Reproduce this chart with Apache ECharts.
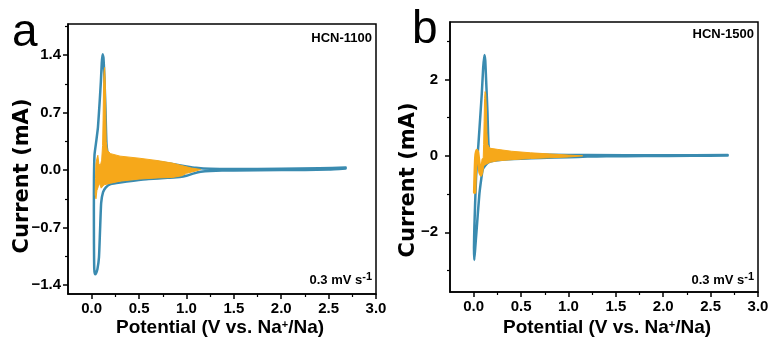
<!DOCTYPE html>
<html>
<head>
<meta charset="utf-8">
<script src="https://cdn.jsdelivr.net/npm/echarts@6/dist/echarts.min.js"></script>
<style>html,body{margin:0;padding:0;background:#fff}#c{width:773px;height:341px}</style>
</head>
<body>
<div id="c"></div>
<script>
// ---------- data ----------
const xTickVals = [0, 0.5, 1.0, 1.5, 2.0, 2.5, 3.0];
const xMinorVals = [0.25, 0.75, 1.25, 1.75, 2.25, 2.75];
const yTickValsA = [-1.4, -0.7, 0, 0.7, 1.4];
const yMinorValsA = [-1.05, -0.35, 0.35, 1.05, 1.75];
const yTickValsB = [-2, 0, 2];
const yMinorValsB = [-3, -1, 1, 3];

// HCN-1100: outer CV loop (teal), [potential V, current mA]
const tealA = [
  [2.68, 0.02], [2.5, 0.006], [2.0, 0.0], [1.5, -0.004], [1.25, -0.01], [1.15, -0.02],
  [1.08, -0.04], [1.0, -0.07], [0.93, -0.085], [0.8, -0.095], [0.6, -0.11], [0.44, -0.13],
  [0.3, -0.15], [0.2, -0.17], [0.15, -0.21], [0.12, -0.27], [0.1, -0.4], [0.088, -0.74],
  [0.077, -1.06], [0.06, -1.21], [0.045, -1.26], [0.035, -1.27], [0.027, -1.2],
  [0.024, -0.9], [0.023, -0.5], [0.024, -0.09], [0.03, 0.19], [0.049, 0.36], [0.066, 0.52],
  [0.085, 0.85], [0.097, 1.08], [0.106, 1.3], [0.115, 1.41], [0.124, 1.37], [0.134, 1.13],
  [0.146, 0.72], [0.156, 0.32], [0.175, 0.19], [0.22, 0.15], [0.3, 0.13], [0.5, 0.115],
  [0.7, 0.1], [0.85, 0.075], [1.0, 0.045], [1.1, 0.028], [1.25, 0.016], [1.5, 0.013],
  [2.0, 0.016], [2.4, 0.022], [2.68, 0.03]
];
// HCN-1100: envelope of the later cycles (orange), closed outline
const orangeA = [
  [0.04, -0.1], [0.045, 0.08], [0.055, 0.14], [0.065, 0.18], [0.075, 0.08], [0.09, 0.05],
  [0.105, 0.12], [0.115, 0.3], [0.12, 0.6], [0.125, 1.0], [0.13, 1.2], [0.137, 1.25],
  [0.144, 1.05], [0.149, 0.65], [0.153, 0.35], [0.165, 0.24], [0.2, 0.2], [0.3, 0.17],
  [0.5, 0.145], [0.7, 0.115], [0.85, 0.085], [0.95, 0.055], [1.05, 0.025], [1.15, 0.008],
  [1.1, -0.01], [1.0, -0.04], [0.95, -0.07], [0.85, -0.09], [0.7, -0.095], [0.5, -0.11],
  [0.3, -0.135], [0.2, -0.16], [0.13, -0.18], [0.1, -0.22], [0.085, -0.16], [0.07, -0.2],
  [0.055, -0.25], [0.045, -0.35], [0.037, -0.3]
];

// HCN-1500
const tealB = [
  [2.68, 0.01], [2.3, 0.0], [1.8, -0.005], [1.4, -0.01], [1.2, -0.02], [1.0, -0.035],
  [0.7, -0.055], [0.5, -0.075], [0.3, -0.1], [0.21, -0.13], [0.15, -0.18], [0.12, -0.26],
  [0.095, -0.36], [0.08, -0.6], [0.06, -1.0], [0.03, -1.96], [0.015, -2.45], [0.006, -2.72],
  [0.003, -2.4], [0.007, -1.87], [0.025, -0.56], [0.05, 0.31], [0.085, 1.61], [0.1, 2.3],
  [0.113, 2.64], [0.122, 2.5], [0.13, 2.05], [0.145, 1.17], [0.156, 0.3], [0.17, 0.12],
  [0.19, 0.06], [0.3, 0.05], [0.5, 0.04], [0.8, 0.03], [1.2, 0.02], [2.0, 0.015], [2.68, 0.02]
];
const orangeB = [
  [0.1, -0.1], [0.105, 0.3], [0.11, 0.9], [0.115, 1.5], [0.12, 1.68], [0.127, 1.62],
  [0.134, 1.2], [0.14, 0.6], [0.148, 0.3], [0.17, 0.2], [0.25, 0.17], [0.4, 0.12],
  [0.6, 0.08], [0.8, 0.05], [1.0, 0.02], [1.15, 0.0], [1.0, -0.03], [0.8, -0.05],
  [0.6, -0.07], [0.4, -0.1], [0.25, -0.13], [0.17, -0.17], [0.13, -0.22], [0.11, -0.25]
];
const orangeLoopB = [
  [0.01, -0.95], [0.015, -0.5], [0.022, -0.05], [0.032, 0.14], [0.042, 0.08], [0.052, -0.12],
  [0.066, -0.42], [0.078, -0.5], [0.09, -0.3], [0.1, -0.1]
];

const TEAL = '#3A8BB0';
const ORANGE = '#F6A81A';
const FONT = '"Liberation Sans", Arial, sans-serif';

// ---------- chart ----------
const chart = echarts.init(document.getElementById('c'), null, {renderer: 'canvas'});

function xAxes(gi) {
  return [
    {
      type: 'value', gridIndex: gi, min: -0.25, max: 3.0, position: 'bottom',
      axisLine: {show: true, onZero: false, lineStyle: {color: '#000', width: 1.5}},
      axisTick: {show: true, inside: false, length: 5, lineStyle: {color: '#000', width: 1.5}, customValues: xTickVals},
      axisLabel: {show: true, customValues: xTickVals, margin: 7, color: '#000', fontFamily: FONT, fontWeight: 'bold', fontSize: 15,
        formatter: v => v.toFixed(1)},
      splitLine: {show: false}
    },
    {
      type: 'value', gridIndex: gi, min: -0.25, max: 3.0, position: 'bottom', offset: 0,
      axisLine: {show: false, onZero: false},
      axisTick: {show: true, inside: false, length: 3, lineStyle: {color: '#000', width: 1.2}, customValues: xMinorVals},
      axisLabel: {show: false}, splitLine: {show: false}
    }
  ];
}
function yAxes(gi, min, max, major, minor, fmt, margin) {
  return [
    {
      type: 'value', gridIndex: gi, min: min, max: max, position: 'left',
      axisLine: {show: true, onZero: false, lineStyle: {color: '#000', width: 1.5}},
      axisTick: {show: true, inside: false, length: 5, lineStyle: {color: '#000', width: 1.5}, customValues: major},
      axisLabel: {show: true, customValues: major, margin: margin, color: '#000', fontFamily: FONT, fontWeight: 'bold', fontSize: 15, formatter: fmt},
      splitLine: {show: false}
    },
    {
      type: 'value', gridIndex: gi, min: min, max: max, position: 'left', offset: 0,
      axisLine: {show: false, onZero: false},
      axisTick: {show: true, inside: false, length: 3, lineStyle: {color: '#000', width: 1.2}, customValues: minor},
      axisLabel: {show: false}, splitLine: {show: false}
    }
  ];
}
const fmtA = v => (v < 0 ? '\u2212' : '') + Math.abs(v).toFixed(1);
const fmtB = v => (v < 0 ? '\u2212' : '') + Math.abs(v).toFixed(0);

function polygonSeries(xi, yi, pts) {
  return {
    type: 'custom', xAxisIndex: xi, yAxisIndex: yi, z: 3, clip: true, silent: true,
    data: [pts[0]],
    renderItem: (params, api) => ({
      type: 'polygon',
      shape: {points: pts.map(p => api.coord(p))},
      style: {fill: ORANGE, stroke: ORANGE, lineWidth: 1}
    })
  };
}
function lineSeries(xi, yi, pts, color, width, z) {
  return {
    type: 'line', xAxisIndex: xi, yAxisIndex: yi, data: pts, showSymbol: false, symbol: 'none',
    smooth: 0.15, z: z, silent: true, animation: false,
    lineStyle: {color: color, width: width, join: 'round', cap: 'round'}
  };
}

function txt(x, y, text, font, align, vAlign, rotation) {
  return {
    type: 'text', x: x, y: y, rotation: rotation || 0, silent: true,
    style: {text: text, x: 0, y: 0, font: font, fill: '#000', align: align, verticalAlign: vAlign,
      textAlign: align, textVerticalAlign: vAlign, rich: {
        sup: {font: 'bold 11px ' + FONT, fill: '#000', padding: [0, 0, 7, 0]}
      }}
  };
}

chart.setOption({
  animation: false,
  backgroundColor: '#fff',
  grid: [
    {left: 68, top: 24, width: 308, height: 270, show: true, borderColor: '#000', borderWidth: 1.5, backgroundColor: 'transparent'},
    {left: 450, top: 22, width: 308, height: 270, show: true, borderColor: '#000', borderWidth: 1.5, backgroundColor: 'transparent'}
  ],
  xAxis: xAxes(0).concat(xAxes(1)),
  yAxis: yAxes(0, -1.51, 1.78, yTickValsA, yMinorValsA, fmtA, 7)
    .concat(yAxes(1, -3.56, 3.5, yTickValsB, yMinorValsB, fmtB, 12)),
  series: [
    lineSeries(0, 0, tealA, TEAL, 2.5, 2),
    polygonSeries(0, 0, orangeA),
    lineSeries(2, 2, tealB, TEAL, 2.5, 2),
    polygonSeries(2, 2, orangeB),
    lineSeries(2, 2, orangeLoopB, ORANGE, 3.5, 4)
  ],
  graphic: [
    txt(12, 10, 'a', '46px ' + FONT, 'left', 'top'),
    txt(412, 7, 'b', '46px ' + FONT, 'left', 'top'),
    txt(372, 38, 'HCN-1100', 'bold 13px ' + FONT, 'right', 'middle'),
    txt(754, 34, 'HCN-1500', 'bold 13px ' + FONT, 'right', 'middle'),
    txt(372, 280, '0.3 mV s{sup|-1}', 'bold 13px ' + FONT, 'right', 'middle'),
    txt(754, 280, '0.3 mV s{sup|-1}', 'bold 13px ' + FONT, 'right', 'middle'),
    txt(220, 328, 'Potential (V vs. Na{sup|+}/Na)', 'bold 19px ' + FONT, 'center', 'middle'),
    txt(607, 328, 'Potential (V vs. Na{sup|+}/Na)', 'bold 19px ' + FONT, 'center', 'middle'),
    txt(23, 176, 'Current (mA)', 'bold 21px "DejaVu Sans", sans-serif', 'center', 'middle', Math.PI / 2),
    txt(409, 180, 'Current (mA)', 'bold 21px "DejaVu Sans", sans-serif', 'center', 'middle', Math.PI / 2)
  ]
});
</script>
</body>
</html>
